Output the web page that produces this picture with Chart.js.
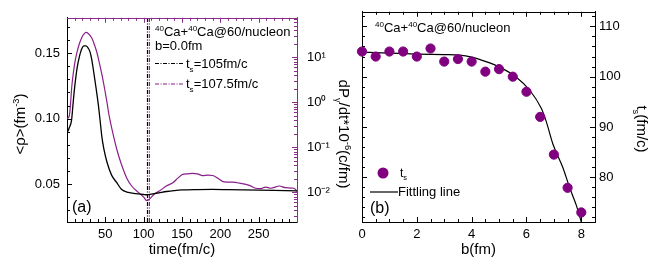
<!DOCTYPE html>
<html>
<head>
<meta charset="utf-8">
<script src="https://cdn.jsdelivr.net/npm/chart.js@4.4.0/dist/chart.umd.min.js"></script>
<style>
  html, body { margin: 0; padding: 0; background: #fff; }
  #wrap { position: relative; width: 649px; height: 261px; }
  #chartA { position: absolute; left: 0; top: 0; }
  #chartB { position: absolute; left: 340px; top: 0; }
</style>
</head>
<body>
<div id="wrap">
  <canvas id="chartA" width="360" height="261"></canvas>
  <canvas id="chartB" width="309" height="261"></canvas>
</div>
<script>
// panel (a): mean density vs time
const timeBlack = [0, 3, 6, 8, 10, 13, 16, 19, 22, 25, 28, 30, 32, 35, 38, 41, 43, 45.5, 48, 52,
  58, 65, 71, 80, 90, 100, 105, 110, 120, 130, 140, 150, 170, 190, 210, 230, 250, 270, 300];
const rhoBlack = [0.089, 0.093, 0.099, 0.112, 0.124, 0.138, 0.147, 0.153, 0.1555, 0.1556, 0.1535, 0.151, 0.146, 0.135, 0.123, 0.110, 0.0995, 0.086, 0.077, 0.067,
  0.057, 0.051, 0.046, 0.0436, 0.0427, 0.0420, 0.0418, 0.0423, 0.0433, 0.0443, 0.0450, 0.0455, 0.0458, 0.0459, 0.0457, 0.0455, 0.0453, 0.0451, 0.0448];

const timePurple = [0, 3, 6.5, 10, 13, 16, 19.5, 22, 24.7, 28, 32.5, 36, 39, 42, 45.5, 49, 52, 55, 58.4, 65,
  71.4, 78, 84.4, 93, 100, 104, 108, 114, 121, 129.5, 138, 144.5, 151, 157, 164, 170, 177, 184, 190, 196.5,
  205, 216, 225, 238, 246, 253, 259, 266, 277, 285, 296, 300];
const rhoPurple = [0.100, 0.102, 0.126, 0.142, 0.1505, 0.157, 0.1622, 0.1645, 0.1658, 0.1648, 0.1614, 0.156, 0.1505, 0.143, 0.1337, 0.123, 0.113, 0.102, 0.0925, 0.0764,
  0.0643, 0.0545, 0.0485, 0.0436, 0.0400, 0.0373, 0.0388, 0.0424, 0.0448, 0.0485, 0.0509, 0.0545, 0.0574, 0.0578, 0.0582, 0.0578, 0.0565, 0.0568, 0.0565, 0.0545,
  0.0516, 0.0514, 0.0507, 0.0490, 0.0468, 0.0465, 0.0477, 0.0468, 0.0485, 0.0472, 0.0468, 0.0445];

const tsMarks = [105, 107.5];
const rhoRange = [0.021, 0.177];
const dpRange = [0.0022, 76];
const timeRange = [0, 300];

// panel (b): separation time vs impact parameter
const impactB = [0, 0.5, 1, 1.5, 2, 2.5, 3, 3.5, 4, 4.5, 5, 5.5, 6, 6.5, 7, 7.5, 8];
const tsPoints = [105.0, 104.0, 105.0, 105.0, 104.0, 105.6, 103.0, 103.5, 103.0, 101.0, 101.5, 100.0, 97.0, 92.0, 84.5, 77.9, 73.0];
const fitB = [0, 1, 2, 3, 3.56, 4, 4.41, 5.02, 5.63, 6.12, 6.54, 6.72, 6.97, 7.33, 7.57, 7.82, 8.0];
const fitTs = [104.9, 104.7, 104.5, 104.4, 104.3, 103.9, 103.2, 101.9, 99.9, 97.3, 93.7, 91.1, 86.5, 81.9, 78.0, 74.4, 71.1];
const bRange = [0, 8.5];
const tsRange = [71.1, 112.9];

const FONT = '"Liberation Sans", Arial, Helvetica, sans-serif';
const PURPLE = '#8a1f8a';
const PURPLE_AX = '#8b2b8b';
const DOT = '#800080';
const DASHDOT = [4, 1.5, 1, 1.5];

Chart.defaults.font.family = FONT;
Chart.defaults.color = '#000';

function range(a, b, step) {
  const out = [];
  for (let v = a; v <= b + 1e-9; v += step) out.push(Math.round(v * 1000) / 1000);
  return out;
}
const isMult = (v, m) => Math.abs(v / m - Math.round(v / m)) < 1e-6;
const isPow10 = v => Math.abs(Math.log10(v) - Math.round(Math.log10(v))) < 1e-9;

const logTicks = [];
for (let e = -3; e <= 1; e++) {
  for (let m = 1; m <= 9; m++) {
    const v = m * Math.pow(10, e);
    if (v > dpRange[0] && v < dpRange[1]) logTicks.push(v);
  }
}
const supDigits = { '-': '⁻', '0': '⁰', '1': '¹', '2': '²', '3': '³' };

// inward tick marks on all four sides + top frame line
const frameTicks = {
  id: 'frameTicks',
  afterDatasetsDraw(chart, args, opts) {
    const { ctx, chartArea: a } = chart;
    ctx.save();
    ctx.lineWidth = 1;
    for (const m of opts.marks) {
      const sc = chart.scales[m.scale];
      ctx.strokeStyle = m.color;
      for (const v of m.values) {
        const p = Math.round(sc.getPixelForValue(v)) + 0.5;
        const len = m.major(v) ? 5 : 3;
        ctx.beginPath();
        if (m.side === 'bottom') { ctx.moveTo(p, a.bottom); ctx.lineTo(p, a.bottom - len); }
        if (m.side === 'top') { ctx.moveTo(p, a.top); ctx.lineTo(p, a.top + len); }
        if (m.side === 'left') { ctx.moveTo(a.left, p); ctx.lineTo(a.left + len, p); }
        if (m.side === 'right') { ctx.moveTo(a.right, p); ctx.lineTo(a.right - len, p); }
        ctx.stroke();
      }
    }
    ctx.strokeStyle = opts.topColor;
    ctx.beginPath();
    ctx.moveTo(a.left, Math.round(a.top) + 0.5);
    ctx.lineTo(a.right, Math.round(a.top) + 0.5);
    ctx.stroke();
    ctx.restore();
  }
};

function drawRich(ctx, it) {
  const size = it.size;
  ctx.save();
  ctx.fillStyle = it.color || '#000';
  ctx.textBaseline = 'alphabetic';
  ctx.textAlign = 'left';
  const seg = it.parts.map(p => {
    const s = (p.sup || p.sub) ? size * 0.62 : size;
    ctx.font = s + 'px ' + FONT;
    return { t: p.t, s, w: ctx.measureText(p.t).width, dy: p.sup ? -size * 0.42 : p.sub ? size * 0.28 : 0 };
  });
  const total = seg.reduce((acc, g) => acc + g.w, 0);
  ctx.translate(it.x, it.y);
  if (it.rotate) ctx.rotate(it.rotate);
  let cx = it.center ? -total / 2 : 0;
  for (const g of seg) {
    ctx.font = g.s + 'px ' + FONT;
    ctx.fillText(g.t, cx, g.dy);
    cx += g.w;
  }
  ctx.restore();
}

// annotations, legends and rotated axis titles
const notes = {
  id: 'notes',
  afterDraw(chart, args, opts) {
    const ctx = chart.ctx;
    for (const it of opts.items) {
      if (it.line) {
        ctx.save();
        ctx.strokeStyle = it.color;
        ctx.lineWidth = 1.2;
        ctx.setLineDash(it.dash || []);
        ctx.beginPath();
        ctx.moveTo(it.line[0], it.line[1]);
        ctx.lineTo(it.line[2], it.line[3]);
        ctx.stroke();
        ctx.restore();
      } else if (it.circle) {
        ctx.save();
        ctx.fillStyle = it.color;
        ctx.beginPath();
        ctx.arc(it.circle[0], it.circle[1], it.circle[2], 0, Math.PI * 2);
        ctx.fill();
        ctx.restore();
      } else {
        drawRich(ctx, it);
      }
    }
  }
};

const header = [{ t: '40', sup: 1 }, { t: 'Ca+' }, { t: '40', sup: 1 }, { t: 'Ca@60/nucleon' }];

new Chart(document.getElementById('chartA'), {
  type: 'line',
  data: {
    datasets: [
      {
        data: timeBlack.map((t, i) => ({ x: t, y: rhoBlack[i] })),
        borderColor: '#000', borderWidth: 1.3, pointRadius: 0, cubicInterpolationMode: 'monotone'
      },
      {
        data: timePurple.map((t, i) => ({ x: t, y: rhoPurple[i] })),
        borderColor: PURPLE, borderWidth: 1.2, pointRadius: 0, cubicInterpolationMode: 'monotone'
      },
      {
        data: rhoRange.map(r => ({ x: tsMarks[0], y: r })),
        borderColor: '#000', borderWidth: 1.2, borderDash: DASHDOT, pointRadius: 0
      },
      {
        data: rhoRange.map(r => ({ x: tsMarks[1], y: r })),
        borderColor: PURPLE, borderWidth: 1.2, borderDash: DASHDOT, pointRadius: 0
      }
    ]
  },
  options: {
    responsive: false,
    animation: false,
    events: [],
    layout: { padding: { top: 8, left: 0, right: 0, bottom: 0 } },
    plugins: {
      legend: { display: false },
      tooltip: { enabled: false },
      frameTicks: {
        topColor: PURPLE_AX,
        marks: [
          { scale: 'x', side: 'bottom', color: '#000', values: range(10, 290, 10), major: v => v % 50 === 0 },
          { scale: 'x', side: 'top', color: PURPLE_AX, values: range(10, 290, 10), major: v => v % 50 === 0 },
          { scale: 'y', side: 'left', color: '#000', values: range(0.03, 0.17, 0.01), major: v => isMult(v, 0.05) },
          { scale: 'y1', side: 'right', color: PURPLE_AX, values: logTicks, major: isPow10 }
        ]
      },
      notes: {
        items: [
          { parts: header, x: 155, y: 36, size: 13 },
          { parts: [{ t: 'b=0.0fm' }], x: 155, y: 50, size: 13 },
          { line: [155, 63.5, 183, 63.5], color: '#000', dash: DASHDOT },
          { parts: [{ t: 't' }, { t: 's', sub: 1 }, { t: '=105fm/c' }], x: 186, y: 68, size: 13 },
          { line: [155, 84, 183, 84], color: PURPLE, dash: DASHDOT },
          { parts: [{ t: 't' }, { t: 's', sub: 1 }, { t: '=107.5fm/c' }], x: 186, y: 88, size: 13 },
          { parts: [{ t: '(a)' }], x: 72, y: 212, size: 16 },
          { parts: [{ t: '<ρ>(fm' }, { t: '-3', sup: 1 }, { t: ')' }], x: 25, y: 124, size: 15, rotate: -Math.PI / 2, center: true },
          { parts: [{ t: 'dP' }, { t: 'γ', sub: 1 }, { t: '/dt*10' }, { t: '-6', sup: 1 }, { t: '(c/fm)' }], x: 339, y: 134, size: 15, rotate: Math.PI / 2, center: true }
        ]
      }
    },
    scales: {
      x: {
        type: 'linear', min: timeRange[0], max: timeRange[1],
        grid: { display: false, drawTicks: false },
        border: { color: '#000', width: 1 },
        ticks: {
          stepSize: 10, autoSkip: false, maxRotation: 0, padding: 5, font: { size: 13 },
          callback: v => (v % 50 === 0 && v > 0 && v < 300) ? String(v) : ''
        },
        title: { display: true, text: 'time(fm/c)', font: { size: 15 }, padding: { top: 0, bottom: 2 } },
        afterFit: s => { s.height = 39; }
      },
      y: {
        type: 'linear', position: 'left', min: rhoRange[0], max: rhoRange[1],
        grid: { display: false, drawTicks: false },
        border: { color: '#000', width: 1 },
        ticks: {
          stepSize: 0.01, autoSkip: false, padding: 7, font: { size: 13 },
          callback: v => (isMult(v, 0.05) && v > 0.03) ? v.toFixed(2) : ''
        },
        afterFit: s => { s.width = 67; }
      },
      y1: {
        type: 'logarithmic', position: 'right', min: dpRange[0], max: dpRange[1],
        grid: { display: false, drawTicks: false },
        border: { color: PURPLE_AX, width: 1 },
        ticks: {
          autoSkip: false, padding: 10, font: { size: 13 },
          callback: v => isPow10(v) ? '10' + String(Math.round(Math.log10(v))).split('').map(c => supDigits[c]).join('') : ''
        },
        afterFit: s => { s.width = 63; }
      }
    }
  },
  plugins: [frameTicks, notes]
});

new Chart(document.getElementById('chartB'), {
  type: 'scatter',
  data: {
    datasets: [
      {
        data: impactB.map((b, i) => ({ x: b, y: tsPoints[i] })),
        backgroundColor: DOT, borderColor: DOT, pointRadius: 4.6, clip: false, yAxisID: 'y'
      },
      {
        data: fitB.map((b, i) => ({ x: b, y: fitTs[i] })),
        showLine: true, borderColor: '#000', borderWidth: 1.2, pointRadius: 0,
        cubicInterpolationMode: 'monotone', yAxisID: 'y'
      }
    ]
  },
  options: {
    responsive: false,
    animation: false,
    events: [],
    layout: { padding: { top: 8, left: 0, right: 0, bottom: 0 } },
    plugins: {
      legend: { display: false },
      tooltip: { enabled: false },
      frameTicks: {
        topColor: '#000',
        marks: [
          { scale: 'x', side: 'bottom', color: '#000', values: range(0.5, 8, 0.5), major: v => v % 2 === 0 },
          { scale: 'x', side: 'top', color: '#000', values: range(0.5, 8, 0.5), major: v => v % 2 === 0 },
          { scale: 'y', side: 'right', color: '#000', values: range(72, 112, 2), major: v => v % 10 === 0 },
          { scale: 'yl', side: 'left', color: '#000', values: range(72, 112, 2), major: v => v % 10 === 0 }
        ]
      },
      notes: {
        items: [
          { parts: header, x: 35, y: 32, size: 13 },
          { circle: [43, 173, 5.5], color: DOT },
          { parts: [{ t: 't' }, { t: 's', sub: 1 }], x: 60, y: 177, size: 12 },
          { line: [30, 192, 58, 192], color: '#000' },
          { parts: [{ t: 'Fittling line' }], x: 58, y: 196, size: 13 },
          { parts: [{ t: '(b)' }], x: 30, y: 213, size: 16 },
          { parts: [{ t: 't' }, { t: 's', sub: 1 }, { t: '(fm/c)' }], x: 297, y: 129, size: 15, rotate: Math.PI / 2, center: true }
        ]
      }
    },
    scales: {
      x: {
        type: 'linear', min: bRange[0], max: bRange[1],
        grid: { display: false, drawTicks: false },
        border: { color: '#000', width: 1 },
        ticks: {
          stepSize: 0.5, autoSkip: false, maxRotation: 0, padding: 5, font: { size: 13 },
          callback: v => (v % 2 === 0) ? String(v) : ''
        },
        title: { display: true, text: 'b(fm)', font: { size: 15 }, padding: { top: 0, bottom: 2 } },
        afterFit: s => { s.height = 39; }
      },
      yl: {
        type: 'linear', position: 'left', min: tsRange[0], max: tsRange[1],
        grid: { display: false, drawTicks: false },
        border: { color: '#000', width: 1 },
        ticks: { display: false },
        afterFit: s => { s.width = 22; }
      },
      y: {
        type: 'linear', position: 'right', min: tsRange[0], max: tsRange[1],
        grid: { display: false, drawTicks: false },
        border: { color: '#000', width: 1 },
        ticks: {
          stepSize: 2, autoSkip: false, padding: 4, font: { size: 13 },
          callback: v => (v % 10 === 0) ? String(v) : ''
        },
        afterFit: s => { s.width = 54; }
      }
    }
  },
  plugins: [frameTicks, notes]
});
</script>
</body>
</html>
